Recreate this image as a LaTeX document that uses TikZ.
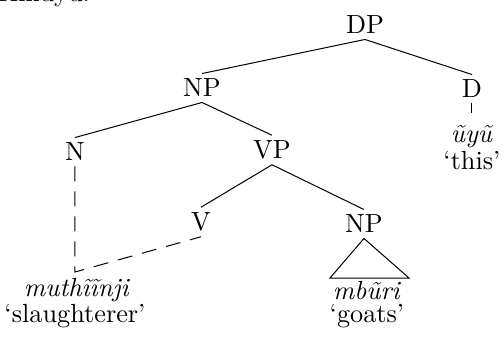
\documentclass[tikz,border=0pt]{standalone}
\usepackage{fontspec}

\begin{document}
\begin{tikzpicture}[font = \fontsize{10.5}{12.6}\selectfont,
        cat/.style = {inner sep = 2pt}, gloss/.style = {inner sep = 0pt}]
        \useasboundingbox (0pt, 0pt) rectangle (201.6pt, -134.8pt);

        % Heading (cut off at the top)
        \node [anchor = base west, inner sep = 0pt] (title) at (-1pt, -0.5pt) {Kĩkũyũ.};

        % Nodes
        \node [cat] (dp) at (146pt, -10pt) {DP};
        \node [cat] (np) at (80.8pt, -35.2pt) {NP};
        \node [cat] (d) at (188.8pt, -35.6pt) {D};
        \node [cat] (n) at (30pt, -60.8pt) {N};
        \node [cat] (vp) at (108.8pt, -60pt) {VP};
        \node [cat] (v) at (80.4pt, -88.8pt) {V};
        \node [cat] (npo) at (145.6pt, -89.6pt) {NP};

        % Words
        \node [gloss] (uyu) at (188.8pt, -54.8pt) {\textit{ũyũ}};
        \node [gloss] (this) at (188.8pt, -64.4pt) {`this'};
        \node [gloss] (muth) at (30.8pt, -116pt) {\textit{muthĩĩnji}};
        \node [gloss] (slau) at (30pt, -126.6pt) {`slaughterer'};
        \node [gloss] (mburi) at (146.8pt, -116.4pt) {\textit{mbũri}};
        \node [gloss] (goats) at (146.8pt, -126.6pt) {`goats'};
        \coordinate (bend) at (30pt, -108.8pt);

        % Lines
        \draw (dp.south) -- (np.north);
        \draw (dp.south) -- (d.north);
        \draw (np.south) -- (n.north);
        \draw (np.south) -- (vp.north);
        \draw (vp.south) -- (v.north);
        \draw (vp.south) -- (npo.north);
        \draw (d.south) -- ([yshift = 5pt] uyu.north);
        \draw (npo.south) -- (132pt, -111.2pt) -- (163.6pt, -111.2pt) -- cycle;

        % Trace
        \draw [dash pattern = on 6pt off 4pt] (n.south) -- (bend) -- (v.south);

    \end{tikzpicture}
\end{document}
